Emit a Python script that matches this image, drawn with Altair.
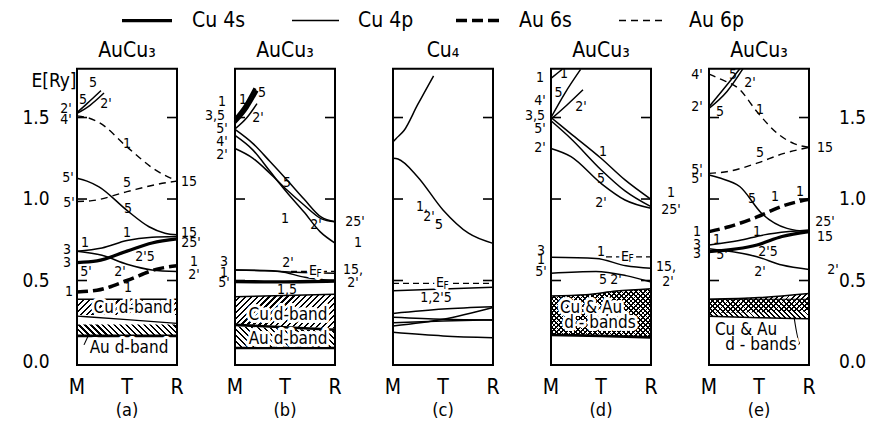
import altair as alt
import numpy as np
import pandas as pd

FONT = "DejaVu Sans Condensed"

# ---------------- layout of the five panels (x in k-units, 1 unit = panel width)
PANELS = ["a", "b", "c", "d", "e"]
PANEL_OFFSET = [0.0, 1.58, 3.16, 4.74, 6.32]
TITLES = ["AuCu₃", "AuCu₃", "Cu₄", "AuCu₃", "AuCu₃"]
PANEL_LETTERS = ["(a)", "(b)", "(c)", "(d)", "(e)"]
KPOINT_NAMES = ["M", "T", "R"]
KPOINT_POS = [0.0, 0.5, 1.0]
YTICK_VALUES = [0.0, 0.5, 1.0, 1.5]
YTICK_LABELS = ["0.0", "0.5", "1.0", "1.5"]
INNER_TICKS = [0.5, 1.0, 1.5]
E_TOP, E_BOTTOM = 1.80, -0.018

ORBITALS = ["Cu 4s", "Cu 4p", "Au 6s", "Au 6p"]

# ---------------- energy bands: (panel, orbital, k values, E [Ry])
BANDS = [
    ("a", "Cu 4p", [0, 0.1, 0.24], [1.53, 1.585, 1.665]),
    ("a", "Cu 4p", [0, 0.13, 0.27], [1.525, 1.575, 1.65]),
    ("a", "Au 6p", [0, 0.1, 0.22, 0.5, 0.78, 1], [1.51, 1.50, 1.47, 1.32, 1.18, 1.11]),
    ("a", "Au 6p", [0, 0.15, 0.5, 0.8, 1], [0.985, 0.99, 1.045, 1.09, 1.11]),
    ("a", "Cu 4p", [0, 0.1, 0.22, 0.5, 0.72, 0.88, 1], [1.127, 1.11, 1.075, 0.93, 0.83, 0.79, 0.78]),
    ("a", "Cu 4p", [0, 0.25, 0.5, 0.75, 1], [0.68, 0.70, 0.745, 0.765, 0.77]),
    ("a", "Cu 4s", [0, 0.2, 0.5, 0.75, 1], [0.61, 0.62, 0.68, 0.73, 0.755]),
    ("a", "Cu 4p", [0, 0.25, 0.5, 0.75, 1], [0.68, 0.655, 0.60, 0.565, 0.555]),
    ("a", "Au 6s", [0, 0.2, 0.5, 0.8, 1], [0.43, 0.44, 0.50, 0.57, 0.59]),

    ("b", "Cu 4s", [0, 0.1, 0.2], [1.49, 1.57, 1.68]),
    ("b", "Cu 4s", [0, 0.12, 0.22], [1.47, 1.56, 1.665]),
    ("b", "Cu 4p", [0, 0.12, 0.22], [1.43, 1.50, 1.585]),
    ("b", "Cu 4p", [0, 0.18, 0.35, 0.52, 0.69, 0.86, 1], [1.427, 1.34, 1.23, 1.117, 1.0, 0.89, 0.86]),
    ("b", "Cu 4p", [0, 0.18, 0.35, 0.52, 0.69, 0.85, 1], [1.39, 1.30, 1.17, 1.04, 0.92, 0.80, 0.73]),
    ("b", "Cu 4p", [0, 0.18, 0.35, 0.52, 0.69, 0.86, 1], [1.31, 1.25, 1.157, 1.055, 0.963, 0.88, 0.86]),
    ("b", "Cu 4p", [0, 0.3, 0.45, 0.7, 1], [0.564, 0.562, 0.555, 0.52, 0.497]),
    ("b", "Cu 4p", [0, 0.3, 0.6, 1], [0.564, 0.56, 0.55, 0.545]),
    ("b", "Cu 4s", [0, 0.5, 1], [0.493, 0.492, 0.497]),

    ("c", "Cu 4p", [0, 0.03, 0.11, 0.245, 0.405], [1.35, 1.37, 1.42, 1.577, 1.755]),
    ("c", "Cu 4p", [0, 0.05, 0.245, 0.5, 0.755, 1], [1.25, 1.245, 1.137, 0.933, 0.79, 0.728]),
    ("c", "Cu 4p", [0, 0.5, 1], [0.437, 0.448, 0.458]),
    ("c", "Cu 4p", [0, 0.5, 1], [0.298, 0.325, 0.339]),
    ("c", "Cu 4p", [0, 0.5, 1], [0.274, 0.262, 0.258]),
    ("c", "Cu 4p", [0, 0.5, 1], [0.221, 0.262, 0.335]),
    ("c", "Cu 4p", [0, 0.5, 1], [0.241, 0.252, 0.258]),
    ("c", "Cu 4p", [0, 0.5, 1], [0.182, 0.16, 0.149]),

    ("d", "Cu 4p", [0, 0.06, 0.11], [1.74, 1.77, 1.795]),
    ("d", "Cu 4p", [0, 0.14, 0.296], [1.50, 1.65, 1.795]),
    ("d", "Cu 4p", [0, 0.16, 0.32], [1.49, 1.577, 1.67]),
    ("d", "Cu 4p", [0, 0.2, 0.5, 0.74, 1], [1.50, 1.40, 1.25, 1.117, 0.998]),
    ("d", "Cu 4p", [0, 0.2, 0.5, 0.74, 1], [1.48, 1.37, 1.18, 1.05, 0.953]),
    ("d", "Cu 4p", [0, 0.2, 0.5, 0.74, 1], [1.31, 1.26, 1.096, 0.994, 0.943]),
    ("d", "Cu 4p", [0, 0.45, 0.75, 1], [0.642, 0.635, 0.59, 0.575]),
    ("d", "Cu 4p", [0, 0.45, 0.75, 1], [0.545, 0.556, 0.53, 0.49]),

    ("e", "Cu 4p", [0, 0.14, 0.31], [1.566, 1.67, 1.80]),
    ("e", "Cu 4p", [0, 0.18, 0.34], [1.556, 1.66, 1.80]),
    ("e", "Au 6p", [0, 0.1, 0.31, 0.48, 0.71, 0.85, 1], [1.767, 1.74, 1.67, 1.535, 1.39, 1.34, 1.317]),
    ("e", "Au 6p", [0, 0.2, 0.48, 0.75, 1], [1.157, 1.17, 1.22, 1.28, 1.317]),
    ("e", "Cu 4p", [0, 0.1, 0.31, 0.53, 0.78, 1], [1.147, 1.13, 1.075, 0.91, 0.82, 0.80]),
    ("e", "Au 6s", [0, 0.2, 0.48, 0.75, 1], [0.80, 0.83, 0.89, 0.96, 0.998]),
    ("e", "Cu 4p", [0, 0.3, 0.55, 0.8, 1], [0.718, 0.745, 0.78, 0.80, 0.81]),
    ("e", "Cu 4s", [0, 0.48, 0.73, 1], [0.677, 0.718, 0.77, 0.80]),
    ("e", "Cu 4p", [0, 0.48, 0.73, 1], [0.695, 0.646, 0.595, 0.568]),
]

# Fermi levels: (panel, k from, k to, E)
FERMI = [("b", 0.56, 1.0, 0.556), ("c", 0.0, 1.0, 0.483), ("d", 0.55, 1.0, 0.645)]

# d-band regions: (panel, k, lower E, upper E)
HATCH_BANDS = [
    ("a", [0, 1], [0.288, 0.288], [0.385, 0.385]),
    ("a", [0, 1], [0.16, 0.16], [0.23, 0.23]),
    ("b", [0, 1], [0.235, 0.205], [0.40, 0.415]),
    ("b", [0, 1], [0.09, 0.09], [0.22, 0.19]),
    ("d", [0, 0.35, 0.65, 1], [0.166, 0.163, 0.158, 0.151], [0.405, 0.412, 0.435, 0.45]),
    ("d", [0, 0.35, 0.65, 1], [0.166, 0.163, 0.158, 0.151], [0.405, 0.412, 0.435, 0.45]),
    ("e", [0, 0.5, 1], [0.30, 0.305, 0.31], [0.385, 0.395, 0.42]),
    ("e", [0, 0.5, 1], [0.28, 0.272, 0.265], [0.385, 0.385, 0.385]),
]
HATCH_STYLE = [("/", 4.2), ("\\", 4.2), ("/", 4.2), ("\\", 4.2),
               ("/", 3.4), ("\\", 3.4), ("/", 3.6), ("\\", 3.6)]

# band edges: (panel, width, k, E)
EDGES = [
    ("a", 1.5, [0, 1], [0.385, 0.385]),
    ("a", 1.3, [0, 0.5, 1], [0.282, 0.26, 0.237]),
    ("a", 2.6, [0, 1], [0.16, 0.16]),
    ("b", 1.5, [0, 1], [0.40, 0.415]),
    ("b", 2.6, [0, 1], [0.228, 0.198]),
    ("b", 2.6, [0, 1], [0.086, 0.086]),
    ("d", 1.5, [0, 0.35, 0.65, 1], [0.405, 0.412, 0.435, 0.45]),
    ("d", 2.6, [0, 0.5, 1], [0.166, 0.16, 0.151]),
    ("e", 1.5, [0, 0.5, 1], [0.385, 0.395, 0.42]),
    ("e", 1.5, [0, 0.5, 1], [0.28, 0.272, 0.265]),
    ("e", 1.2, [0, 0.5, 1], [0.385, 0.385, 0.385]),
]
LEADERS = [
    ("a", [0.07, 0.11], [0.105, 0.158]),
    ("e", [0.89, 0.91, 0.85], [0.104, 0.115, 0.278]),
]

# small band-symmetry labels: (panel, k, E, text)
LABELS = [
    ("a", 0.16, 1.71, "5"), ("a", 0.06, 1.61, "5"), ("a", 0.29, 1.585, "2'"),
    ("a", -0.11, 1.555, "2'"), ("a", -0.11, 1.485, "4'"), ("a", 0.5, 1.34, "1"),
    ("a", -0.09, 1.127, "5'"), ("a", 0.5, 1.096, "5"), ("a", -0.08, 0.974, "5'"),
    ("a", 0.51, 0.937, "5"), ("a", 1.12, 1.106, "15"), ("a", 1.12, 0.793, "15"),
    ("a", 1.14, 0.728, "25'"), ("a", 0.5, 0.79, "1"), ("a", 0.08, 0.728, "1"),
    ("a", -0.1, 0.687, "3"), ("a", -0.1, 0.605, "3"), ("a", 0.09, 0.554, "5'"),
    ("a", 0.43, 0.554, "2'"), ("a", 0.68, 0.646, "2'5"), ("a", 0.51, 0.452, "1"),
    ("a", -0.08, 0.431, "1"), ("a", 1.17, 0.615, "1"), ("a", 1.17, 0.534, "2'"),

    ("b", 0.08, 1.61, "1"), ("b", 0.27, 1.65, "5"), ("b", 0.23, 1.5, "2'"),
    ("b", -0.13, 1.597, "1"), ("b", -0.2, 1.51, "3,5"), ("b", -0.13, 1.43, "5'"),
    ("b", -0.13, 1.35, "4'"), ("b", -0.13, 1.27, "2'"), ("b", 0.52, 1.096, "5"),
    ("b", 0.5, 0.88, "1"), ("b", 0.81, 0.84, "2'"), ("b", 1.2, 0.86, "25'"),
    ("b", 1.23, 0.728, "1"), ("b", -0.11, 0.615, "3"), ("b", -0.11, 0.548, "1"),
    ("b", -0.11, 0.483, "5'"), ("b", 0.53, 0.605, "2'"), ("b", 1.18, 0.564, "15,"),
    ("b", 1.18, 0.483, "2'"), ("b", 0.52, 0.44, "1,5"),

    ("c", 0.29, 0.953, "1,"), ("c", 0.38, 0.89, "2',"), ("c", 0.46, 0.84, "5"),
    ("c", 0.43, 0.39, "1,2'5"),

    ("d", -0.11, 1.74, "1"), ("d", 0.13, 1.77, "1"), ("d", 0.075, 1.65, "5"),
    ("d", 0.3, 1.566, "2'"), ("d", -0.11, 1.6, "4'"), ("d", -0.16, 1.51, "3,5"),
    ("d", -0.11, 1.43, "5'"), ("d", -0.11, 1.31, "2'"), ("d", 0.52, 1.29, "1"),
    ("d", 0.5, 1.12, "5"), ("d", 0.5, 0.975, "2'"), ("d", 1.2, 1.035, "1"),
    ("d", 1.2, 0.93, "25'"), ("d", 0.52, 0.503, "5"), ("d", 0.65, 0.503, "2'"),
    ("d", 0.5, 0.677, "1"), ("d", -0.1, 0.68, "3"), ("d", -0.1, 0.625, "1"),
    ("d", -0.1, 0.55, "5'"), ("d", 1.15, 0.585, "15,"), ("d", 1.17, 0.493, "2'"),

    ("e", -0.12, 1.76, "4'"), ("e", -0.12, 1.566, "2'"), ("e", 0.24, 1.76, "5"),
    ("e", 0.41, 1.71, "2'"), ("e", 0.11, 1.535, "5"), ("e", 0.51, 1.546, "1"),
    ("e", 1.16, 1.31, "15"), ("e", 0.51, 1.28, "5"), ("e", -0.12, 1.175, "5'"),
    ("e", -0.12, 1.12, "5'"), ("e", 0.43, 1.0, "5"), ("e", 0.66, 1.015, "1"),
    ("e", 0.91, 1.045, "1"), ("e", -0.12, 0.80, "1"), ("e", 0.48, 0.80, "1"),
    ("e", 1.16, 0.86, "25'"), ("e", 1.16, 0.77, "15"), ("e", 0.08, 0.75, "1"),
    ("e", -0.12, 0.718, "3"), ("e", -0.12, 0.665, "3"), ("e", 0.13, 0.656, "5'"),
    ("e", 0.59, 0.677, "2'5"), ("e", 0.51, 0.554, "2'"), ("e", 1.24, 0.564, "2'"),
]
# labels drawn with a white halo: (panel, k, E, text, size)
HALO_LABELS = [
    ("a", 0.56, 0.33, "Cu d-band", 17), ("a", 0.52, 0.085, "Au d-band", 17),
    ("b", 0.53, 0.29, "Cu d-band", 17), ("b", 0.53, 0.139, "Au d-band", 17),
    ("b", 0.78, 0.556, "E", 14), ("b", 0.84, 0.54, "F", 10),
    ("c", 0.47, 0.483, "E", 14), ("c", 0.53, 0.467, "F", 10),
    ("d", 0.40, 0.33, "Cu & Au", 17), ("d", 0.49, 0.237, "d - bands", 17),
    ("d", 0.74, 0.645, "E", 14), ("d", 0.80, 0.629, "F", 10),
    ("e", 0.37, 0.196, "Cu & Au", 17), ("e", 0.52, 0.104, "d - bands", 17),
]

# legend (global x units)
LEGEND_LINE_X = [(0.45, 0.95), (2.15, 2.62), (3.79, 4.26), (5.42, 5.90)]
LEGEND_TEXT_X = [1.15, 2.81, 4.42, 6.12]
LEGEND_E = 2.095
STYLE = {"Cu 4s": (3.3, None), "Cu 4p": (1.5, None),
         "Au 6s": (3.5, [11, 5]), "Au 6p": (1.4, [7, 5])}

# ---------------- helpers
PX_X, PX_Y = 100.0, 163.0
xs = alt.Scale(domain=[-0.69, 7.90], nice=False, zero=False)
ys = alt.Scale(domain=[-0.362, 2.172], nice=False, zero=False)
X = alt.X("gx:Q", scale=xs, axis=None)
Y = alt.Y("E:Q", scale=ys, axis=None)


def gx(p, k):
    return PANEL_OFFSET[PANELS.index(p)] + k


def hatch(W, H, direction, spacing, frac=0.38):
    P = W + H
    p = spacing * np.sqrt(2) / P
    clear = "rgba(0,0,0,0)"
    stops = []
    i = 0
    while i * p < 1:
        a = i * p
        b = min(a + frac * p, 1.0)
        c = min((i + 1) * p, 1.0)
        stops += [alt.GradientStop(color="black", offset=round(a, 5)),
                  alt.GradientStop(color="black", offset=round(b, 5)),
                  alt.GradientStop(color=clear, offset=round(b, 5)),
                  alt.GradientStop(color=clear, offset=round(c, 5))]
        i += 1
    r = H / W
    f = (1 + r) / (1 + r * r)
    if direction == "/":
        return alt.LinearGradient(gradient="linear", stops=stops, x1=0, y1=0, x2=f, y2=f * r)
    return alt.LinearGradient(gradient="linear", stops=stops, x1=0, y1=1, x2=f, y2=1 - f * r)


# ---------------- data frames
rows = []
for n, (p, orb, ks, es) in enumerate(BANDS):
    for j, (k, e) in enumerate(zip(ks, es)):
        rows.append({"cid": f"b{n}", "orb": orb, "gx": gx(p, k), "E": e, "i": j})
for n, orb in enumerate(ORBITALS):
    for j, x in enumerate(LEGEND_LINE_X[n]):
        rows.append({"cid": f"leg{n}", "orb": orb, "gx": x, "E": LEGEND_E, "i": j})
curves = pd.DataFrame(rows)

erows = []
for n, (p, w, ks, es) in enumerate(EDGES):
    for j, (k, e) in enumerate(zip(ks, es)):
        erows.append({"cid": f"e{n}", "w": w, "gx": gx(p, k), "E": e, "i": j})
for n, (p, ks, es) in enumerate(LEADERS):
    for j, (k, e) in enumerate(zip(ks, es)):
        erows.append({"cid": f"l{n}", "w": 1.1, "gx": gx(p, k), "E": e, "i": j})
edges = pd.DataFrame(erows)

fermi = pd.DataFrame([{"gx": gx(p, k0), "gx2": gx(p, k1), "E": e} for p, k0, k1, e in FERMI])

frames = pd.DataFrame([{"gx": o, "gx2": o + 1, "E": E_TOP, "E2": E_BOTTOM} for o in PANEL_OFFSET])
ticks = pd.DataFrame([{"gx": o + s, "gx2": o + s + 0.1, "E": t}
                      for o in PANEL_OFFSET for t in INNER_TICKS for s in (0.0, 0.9)])

lab = pd.DataFrame([{"gx": gx(p, k), "E": e, "text": t, "size": 14} for p, k, e, t in LABELS])
halo = pd.DataFrame([{"gx": gx(p, k), "E": e, "text": t, "size": s} for p, k, e, t, s in HALO_LABELS])

big = []
for o, t, L in zip(PANEL_OFFSET, TITLES, PANEL_LETTERS):
    big.append({"gx": o + 0.5, "E": 1.91, "text": t, "size": 21})
    big.append({"gx": o + 0.5, "E": -0.298, "text": L, "size": 18})
    for name, k in zip(KPOINT_NAMES, KPOINT_POS):
        big.append({"gx": o + k, "E": -0.158, "text": name, "size": 21})
for v, t in zip(YTICK_VALUES, YTICK_LABELS):
    big.append({"gx": -0.41, "E": v, "text": t, "size": 19})
    big.append({"gx": 7.755, "E": v, "text": t, "size": 19})
big.append({"gx": -0.23, "E": 1.724, "text": "E[Ry]", "size": 19})
bigdf = pd.DataFrame(big)

legtext = pd.DataFrame([{"gx": x, "E": LEGEND_E, "text": t} for x, t in zip(LEGEND_TEXT_X, ORBITALS)])

# ---------------- layers
layers = []
for (p, ks, lo, hi), (direction, spacing) in zip(HATCH_BANDS, HATCH_STYLE):
    W = PX_X * (ks[-1] - ks[0])
    H = PX_Y * (max(hi) - min(lo))
    df = pd.DataFrame({"gx": [gx(p, k) for k in ks], "E": hi, "lo": lo})
    layers.append(alt.Chart(df).mark_area(color=hatch(W, H, direction, spacing), opacity=1).encode(
        x=X, y=Y, y2="lo:Q"))

layers.append(alt.Chart(edges).mark_line(color="black", interpolate="monotone").encode(
    x=X, y=Y, detail="cid:N", order="i:Q", strokeWidth=alt.StrokeWidth("w:Q", scale=None, legend=None)))

for orb in ORBITALS:
    w, dash = STYLE[orb]
    kw = dict(strokeWidth=w, color="black", interpolate="monotone", strokeCap="butt")
    if dash:
        kw["strokeDash"] = dash
    layers.append(alt.Chart(curves).transform_filter(alt.datum.orb == orb).mark_line(**kw).encode(
        x=X, y=Y, detail="cid:N", order="i:Q"))

layers.append(alt.Chart(fermi).mark_rule(color="black", strokeWidth=1.3, strokeDash=[6, 4]).encode(
    x=X, x2="gx2:Q", y=Y))
layers.append(alt.Chart(frames).mark_rect(fillOpacity=0, stroke="black", strokeWidth=2).encode(
    x=X, x2="gx2:Q", y=Y, y2="E2:Q"))
layers.append(alt.Chart(ticks).mark_rule(color="black", strokeWidth=1.6).encode(
    x=X, x2="gx2:Q", y=Y))

SZ = alt.Size("size:Q", scale=None, legend=None)
layers.append(alt.Chart(lab).mark_text(font=FONT, color="black", align="center", baseline="middle").encode(
    x=X, y=Y, text="text:N", size=SZ))
layers.append(alt.Chart(halo).mark_text(font=FONT, fill="white", stroke="white", strokeWidth=6,
                                        strokeJoin="round", align="center", baseline="middle").encode(
    x=X, y=Y, text="text:N", size=SZ))
layers.append(alt.Chart(halo).mark_text(font=FONT, color="black", align="center", baseline="middle").encode(
    x=X, y=Y, text="text:N", size=SZ))
layers.append(alt.Chart(bigdf).mark_text(font=FONT, color="black", align="center", baseline="middle").encode(
    x=X, y=Y, text="text:N", size=SZ))
layers.append(alt.Chart(legtext).mark_text(font=FONT, color="black", align="left", baseline="middle",
                                           fontSize=21).encode(x=X, y=Y, text="text:N"))

chart = alt.layer(*layers).properties(
    width=859, height=413, padding=0,
    autosize=alt.AutoSizeParams(type="none"),
).configure_view(strokeWidth=0)

chart.save("out.html", embed_options={"renderer": "svg", "actions": False})
